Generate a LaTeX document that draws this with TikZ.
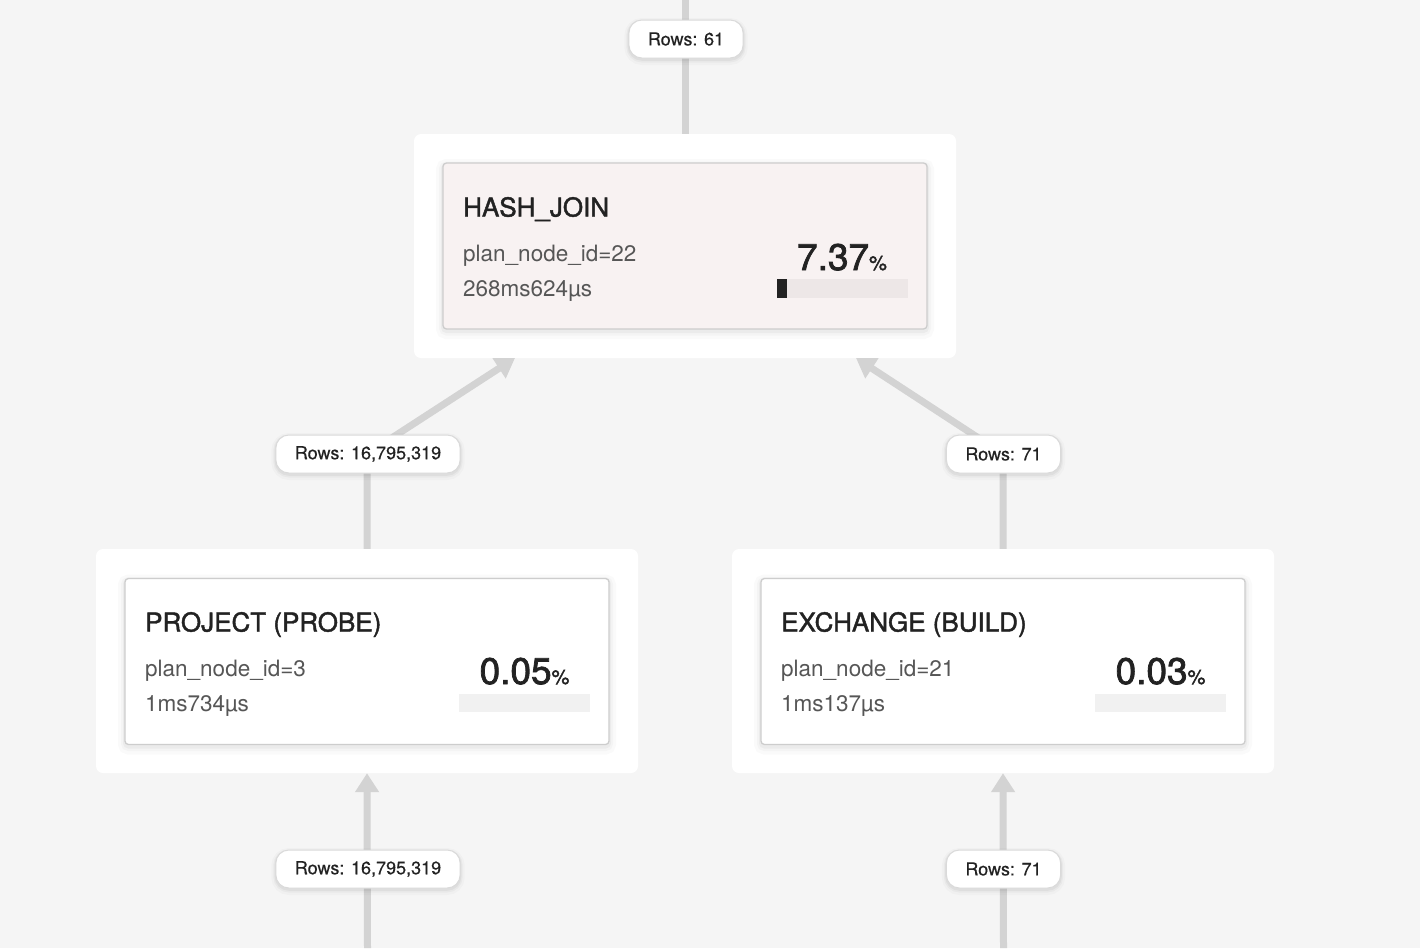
\documentclass[tikz,border=0pt]{standalone}
\usepackage{fontspec}
\setmainfont{TeX Gyre Heros}
\newfontfamily\medfont[FakeBold=1.6]{TeX Gyre Heros}
\newfontfamily\numfont[FakeBold=2.0]{TeX Gyre Heros}
\newfontfamily\pillfont[FakeBold=0.4]{TeX Gyre Heros}
\usetikzlibrary{arrows.meta}
\definecolor{bg}{HTML}{F5F5F5}
\definecolor{edgec}{HTML}{D3D3D3}
\definecolor{cardborder}{HTML}{CDCDCD}
\definecolor{hotfill}{HTML}{F8F2F2}
\definecolor{hotbar}{HTML}{EDE7E7}
\definecolor{bartrack}{HTML}{F1F1F1}
\definecolor{txt}{HTML}{222222}
\definecolor{subtxt}{HTML}{565656}
\definecolor{pillborder}{HTML}{DADADA}
\begin{document}
\begin{tikzpicture}[x=1pt,y=-1pt,
  outerbox/.style={fill=white, rounded corners=7pt, minimum width=542pt, minimum height=224pt, inner sep=0pt},
  card/.style={draw=cardborder, line width=1.3pt, rounded corners=3.5pt, minimum width=484pt, minimum height=166pt, inner sep=0pt,
    preaction={draw=black, draw opacity=0.018, line width=14pt, transform canvas={yshift=-3pt}},
    preaction={draw=black, draw opacity=0.025, line width=8pt, transform canvas={yshift=-2.5pt}},
    preaction={draw=black, draw opacity=0.035, line width=4pt, transform canvas={yshift=-2pt}}},
  title/.style={anchor=base west, inner sep=0pt, text=txt, font=\medfont\fontsize{26}{30}\selectfont},
  sub/.style={anchor=base west, inner sep=0pt, text=subtxt, font=\fontsize{22.5}{26}\selectfont},
  pct/.style={anchor=base, inner sep=0pt, text=txt},
  bar/.style={anchor=north west, inner sep=0pt, minimum width=131pt, minimum height=18.5pt},
  edge/.style={draw=edgec, line width=7pt, -{Triangle[width=23pt,length=19pt]}},
  edgeplain/.style={draw=edgec, line width=7pt},
  pill/.style={fill=white, draw=pillborder, line width=1pt, rounded corners=13pt, minimum height=38pt, inner xsep=19pt, inner ysep=0pt,
    text=txt, font=\pillfont\fontsize{18}{20}\selectfont,
    preaction={draw=black, draw opacity=0.02, line width=9pt, transform canvas={yshift=-2.5pt}},
    preaction={draw=black, draw opacity=0.03, line width=5pt, transform canvas={yshift=-2pt}},
    preaction={draw=black, draw opacity=0.04, line width=2.5pt, transform canvas={yshift=-1.5pt}}},
]
\fill[bg] (0,0) rectangle (1420,948);
\useasboundingbox (0,0) rectangle (1420,948);

% coordinates for free ends
\coordinate (topEnd) at (685,0);
\coordinate (botL) at (367.5,948);
\coordinate (botR) at (1003.5,948);

% outer boxes
\node[outerbox] (hj) at (685,246) {};
\node[outerbox] (proj) at (367,661) {};
\node[outerbox] (exch) at (1003,661) {};

\coordinate (hjTipL) at (515,358);
\coordinate (hjTipR) at (856,358);

% label positions
\coordinate (lTop) at (686,39);
\coordinate (lL) at (368,454);
\coordinate (lR) at (1003.5,454);
\coordinate (lBL) at (368,869);
\coordinate (lBR) at (1003.5,869);

% edges
\draw[edgeplain] (hj.north) -- (topEnd);
\draw[edge] (proj.north) -- (367,454) -- (hjTipL);
\draw[edge] (exch.north) -- (1003,454) -- (hjTipR);
\draw[edge] (botL) -- (proj.south);
\draw[edge] (botR) -- (exch.south);

% cards
\node[card, fill=hotfill] (hjC) at (685,246) {};
\node[card, fill=white] (projC) at (367,661.5) {};
\node[card, fill=white] (exchC) at (1003,661.5) {};

% HASH_JOIN content
\node[title] (hjT) at (463,216.5) {HASH\_JOIN};
\node[sub] (hjId) at (463,261) {plan\_node\_id=22};
\node[sub] (hjTm) at (463,296.5) {268ms624µs};
\node[pct] (hjP) at (842,270) {\numfont\fontsize{37}{40}\selectfont 7.37\fontsize{20}{22}\selectfont\%};
\node[bar, fill=hotbar] (hjBar) at (777,279) {};
\fill[txt] (hjBar.north west) rectangle ++(9.5,18.5);

% PROJECT content
\node[title] (prT) at (145,631.5) {PROJECT (PROBE)};
\node[sub] (prId) at (145,676) {plan\_node\_id=3};
\node[sub] (prTm) at (145,711.5) {1ms734µs};
\node[pct] (prP) at (524.5,684) {\numfont\fontsize{37}{40}\selectfont 0.05\fontsize{20}{22}\selectfont\%};
\node[bar, fill=bartrack] (prBar) at (459,693.5) {};

% EXCHANGE content
\node[title] (exT) at (781,631.5) {EXCHANGE (BUILD)};
\node[sub] (exId) at (781,676) {plan\_node\_id=21};
\node[sub] (exTm) at (781,711.5) {1ms137µs};
\node[pct] (exP) at (1160.5,684) {\numfont\fontsize{37}{40}\selectfont 0.03\fontsize{20}{22}\selectfont\%};
\node[bar, fill=bartrack] (exBar) at (1095,693.5) {};

% row labels
\node[pill] (pTop) at (lTop) {Rows: 61};
\node[pill] (pL) at (lL) {Rows: 16,795,319};
\node[pill] (pR) at (lR) {Rows: 71};
\node[pill] (pBL) at (lBL) {Rows: 16,795,319};
\node[pill] (pBR) at (lBR) {Rows: 71};
\end{tikzpicture}
\end{document}
